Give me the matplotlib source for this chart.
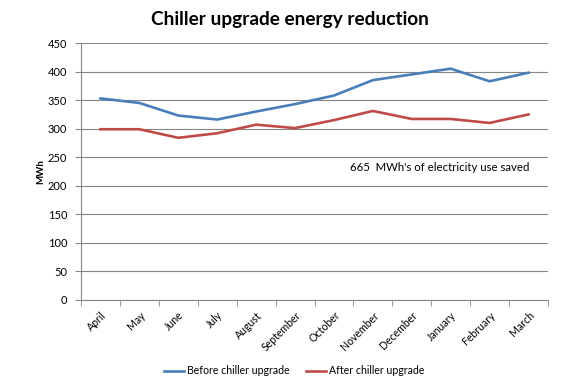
import matplotlib
matplotlib.use("Agg")
import matplotlib.pyplot as plt
import numpy as np

# ─── Dados ────────────────────────────────────────────────────────────────────
months = ["April", "May", "June", "July", "August", "September", "October",
          "November", "December", "January", "February", "March"]
before = [353, 345, 323, 316, 330, 343, 358, 385, 395, 405, 383, 398]
after = [299, 299, 284, 292, 307, 301, 315, 331, 317, 317, 310, 325]
y_ticks = [0, 50, 100, 150, 200, 250, 300, 350, 400, 450]
note = "665  MWh's of electricity use saved"

plt.rcParams["font.family"] = ["Lato", "DejaVu Sans"]

fig = plt.figure(figsize=(5.8, 3.86), dpi=100)
ax = fig.add_axes([81 / 580, 86 / 386, 467 / 580, 257 / 386])

x = np.arange(len(months))
ax.plot(x, before, color="#4A7EBB", linewidth=1.9, label="Before chiller upgrade")
ax.plot(x, after, color="#BE4B48", linewidth=1.9, label="After chiller upgrade")

ax.set_xlim(-0.5, len(months) - 0.5)
ax.set_ylim(0, 450)
ax.set_yticks(y_ticks)
ax.yaxis.grid(True, color="#868686", linewidth=0.8)
ax.set_axisbelow(True)

ax.set_xticks(x)
ax.set_xticklabels(months, rotation=45, ha="right", rotation_mode="anchor")
ax.set_xticks(np.arange(-0.5, len(months)), minor=True)
ax.tick_params(axis="x", which="major", length=0, pad=7, labelsize=7.6, colors="#000000")
ax.tick_params(axis="x", which="minor", length=4, color="#868686")
ax.tick_params(axis="y", length=4, color="#868686", labelsize=8, pad=6)

for side in ["top", "right"]:
    ax.spines[side].set_visible(False)
for side in ["left", "bottom"]:
    ax.spines[side].set_color("#868686")

ax.set_ylabel("MWh", fontsize=7, fontweight="bold", labelpad=2)
ax.text(0.767, 0.517, note, transform=ax.transAxes, ha="center", va="center",
        fontsize=8.2)

fig.suptitle("Chiller upgrade energy reduction", fontsize=13.7, fontweight="bold",
             y=0.972)
fig.legend(loc="center", bbox_to_anchor=(0.507, 0.039), ncol=2, frameon=False,
           fontsize=7.6, handlelength=1.9, handletextpad=0.25, columnspacing=1.6)

fig.savefig("out.png", dpi=100)
plt.close(fig)
